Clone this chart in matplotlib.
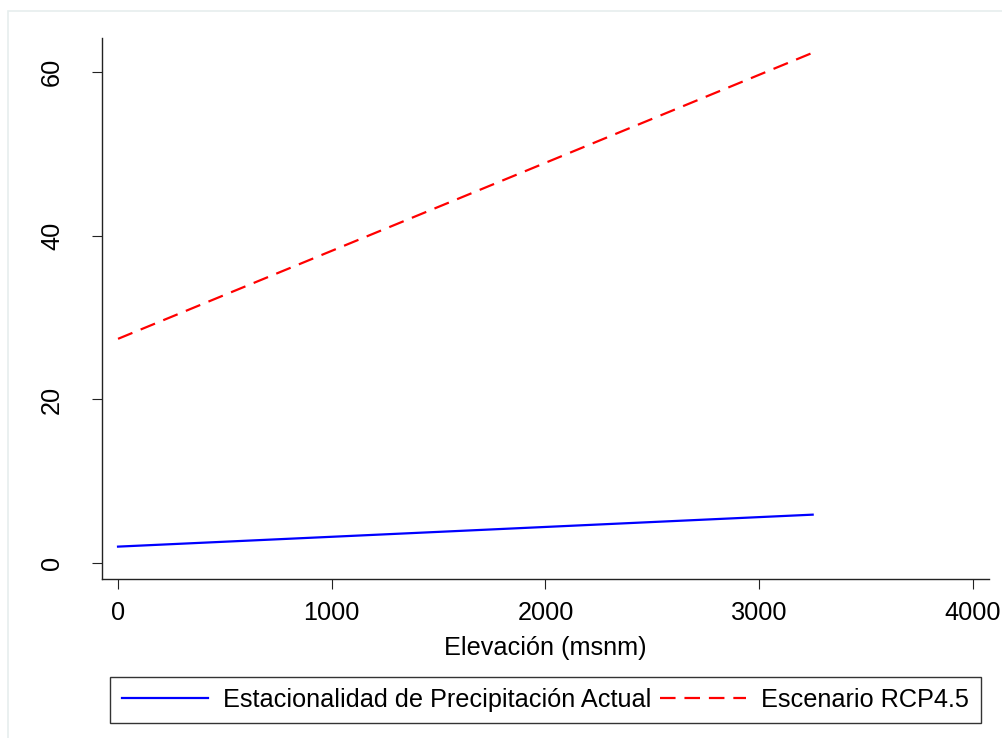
import matplotlib.pyplot as plt
from matplotlib.patches import Rectangle

plt.rcParams['font.family'] = ['Liberation Sans', 'DejaVu Sans']

# fitted lines: elevation (msnm) vs seasonality
elevacion = [0, 3250]
actual = [2.05, 5.95]
rcp45 = [27.4, 62.3]

xticks = [0, 1000, 2000, 3000, 4000]
yticks = [0, 20, 40, 60]

W, H = 1003, 738
fs = 18.2
fig = plt.figure(figsize=(W / 100, H / 100), dpi=100, facecolor='white')

# faint outer frame of the graph region
fig.patches.append(Rectangle((8 / W, -0.1), 1.2, 1 - 11 / H + 0.1,
                             transform=fig.transFigure, fill=False,
                             edgecolor='#e6eeee', linewidth=1.2))

ax = fig.add_axes([102 / W, 1 - 579 / H, (989 - 102) / W, (579 - 38) / H])

l1, = ax.plot(elevacion, actual, color='#0000ff', lw=1.6,
              label='Estacionalidad de Precipitación Actual')
l2, = ax.plot(elevacion, rcp45, color='#ff0000', lw=1.6, dashes=(7, 4),
              label='Escenario RCP4.5')

ax.set_xlim(-75, 4075)
ax.set_ylim(-1.9, 64.1)
ax.set_xticks(xticks)
ax.set_yticks(yticks)

for s in ['top', 'right']:
    ax.spines[s].set_visible(False)
for s in ['left', 'bottom']:
    ax.spines[s].set_color('#222222')
    ax.spines[s].set_linewidth(1.0)

ax.tick_params(axis='both', direction='out', length=7.2, width=0.8,
               colors='#222222', labelcolor='black', labelsize=fs)
ax.tick_params(axis='x', pad=8.5)
ax.tick_params(axis='y', pad=20)
for lab in ax.get_yticklabels():
    lab.set_rotation(90)
    lab.set_va('center')

ax.set_xlabel('Elevación (msnm)', fontsize=fs, labelpad=8)

leg = fig.legend(handles=[l1, l2], loc='center', ncol=2,
                 bbox_to_anchor=((111 + 980) / 2 / W, 1 - 700 / H),
                 fontsize=fs, frameon=True, fancybox=False, shadow=False,
                 edgecolor='black', borderpad=0.45, handlelength=3.4,
                 handletextpad=0.6, columnspacing=0.36, borderaxespad=0)
leg.get_frame().set_linewidth(1.0)

fig.savefig('out.png', dpi=100, facecolor='white')
